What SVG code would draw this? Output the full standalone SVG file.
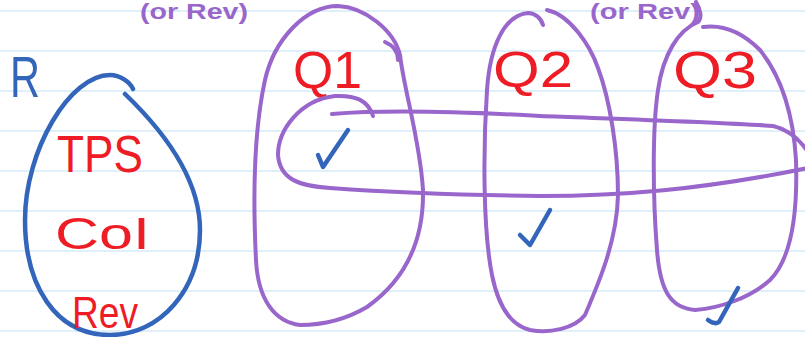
<svg xmlns="http://www.w3.org/2000/svg" width="805" height="337" viewBox="0 0 805 337">
<style>
.rule{stroke:#d6ebfa;stroke-width:1.5}
.pu{fill:none;stroke:#9966cc;stroke-width:4;stroke-linecap:round;stroke-linejoin:round}
.bl{fill:none;stroke:#3366bb;stroke-width:4.5;stroke-linecap:round;stroke-linejoin:round}
.red{fill:#ee1c24;font-family:"Liberation Sans",Arial,sans-serif}
.blt{fill:#3366bb;font-family:"Liberation Sans",Arial,sans-serif}
.put{fill:#9966cc;font-family:"Liberation Sans",Arial,sans-serif;font-weight:bold}
</style>
<rect width="805" height="337" fill="#ffffff"/>
<g id="rules">
<line class="rule" x1="0" y1="11" x2="805" y2="11"/>
<line class="rule" x1="0" y1="51" x2="805" y2="51"/>
<line class="rule" x1="0" y1="91" x2="805" y2="91"/>
<line class="rule" x1="0" y1="131" x2="805" y2="131"/>
<line class="rule" x1="0" y1="171" x2="805" y2="171"/>
<line class="rule" x1="0" y1="211" x2="805" y2="211"/>
<line class="rule" x1="0" y1="251" x2="805" y2="251"/>
<line class="rule" x1="0" y1="291" x2="805" y2="291"/>
<line class="rule" x1="0" y1="331" x2="805" y2="331"/>
</g>
<g id="top-notes">
<text class="put" x="140" y="19" font-size="22" textLength="108" lengthAdjust="spacingAndGlyphs">(or Rev)</text>
<text class="put" x="590" y="19" font-size="22" textLength="110" lengthAdjust="spacingAndGlyphs">(or Rev)</text>
</g>
<g id="node-R">
<text class="blt" x="10" y="97" font-size="58" textLength="30" lengthAdjust="spacingAndGlyphs">R</text>
<path class="bl" d="M125,94 C150,118 200,170 200,230 C200,290 160,335 110,335 C55,335 25,285 25,220 C25,150 70,75 110,75 C120,75 130,82 133,89"/>
<text class="red" x="57" y="172" font-size="52" textLength="86" lengthAdjust="spacingAndGlyphs">TPS</text>
<text class="red" x="55" y="249" font-size="45" textLength="95" lengthAdjust="spacingAndGlyphs">CoI</text>
<text class="red" x="72" y="328" font-size="44" textLength="66" lengthAdjust="spacingAndGlyphs">Rev</text>
</g>
<g id="node-Q1">
<path class="pu" d="M265,80 C274,40 305,6 338,6 C364,7 394,30 400,55 C404,90 420,140 423,190 C424,240 405,280 367,307 C345,320 320,325 300,325 C275,322 258,300 256,260 C253,200 254,130 265,80"/>
<path class="pu" d="M385,42 C392,45 398,50 398,60"/>
<text class="red" x="293" y="88" font-size="52" textLength="69" lengthAdjust="spacingAndGlyphs">Q1</text>
<path class="bl" d="M318,155 L323,167 L348,130"/>
</g>
<g id="node-Q2">
<path class="pu" d="M543,25 C541,18 535,13 528,13 C505,15 490,45 487,90 C483,150 483,230 492,275 C498,305 510,325 530,330 C550,334 575,328 585,315 C600,280 617,240 618,195 C618,150 610,100 598,68 C590,45 570,15 547,10"/>
<text class="red" x="493" y="87" font-size="50" textLength="80" lengthAdjust="spacingAndGlyphs">Q2</text>
<path class="bl" d="M520,235 L530,245 L550,210"/>
</g>
<g id="node-Q3">
<path class="pu" d="M703,27 C725,24 745,35 760,50 C780,75 793,110 796,160 C798,220 790,260 770,280 C750,298 720,308 695,310 C670,308 660,290 657,250 C653,200 652,130 658,90 C663,55 678,30 698,22 C702,18 701,10 696,2"/>
<text class="red" x="673" y="88" font-size="52" textLength="84" lengthAdjust="spacingAndGlyphs">Q3</text>
<path class="bl" d="M708,320 C712,323 716,324 719,322 L738,288"/>
</g>
<g id="connectors">
<path class="pu" d="M332,114 C380,110 450,111 540,116 C620,119 720,122 773,126 C790,130 800,140 808,152"/>
<path class="pu" d="M373,116 C368,100 355,95 335,96 C300,100 278,130 278,155 C280,180 300,186 330,188 C400,193 450,195 540,196 C620,196 700,190 808,168"/>
</g>
</svg>
